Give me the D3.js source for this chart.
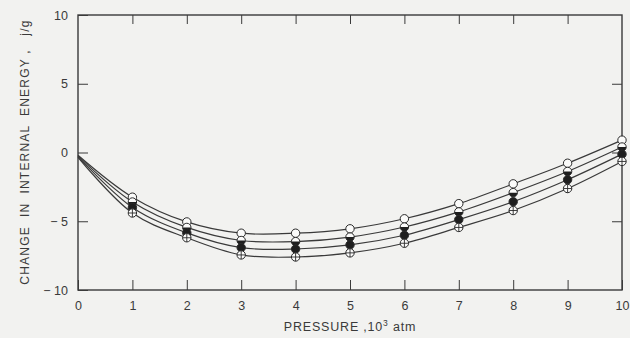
<!DOCTYPE html>
<html>
<head>
<meta charset="utf-8">
<script src="https://cdn.jsdelivr.net/npm/d3@7"></script>
<style>
  html, body { margin: 0; padding: 0; background: #f2f2f0; }
  svg { display: block; }
  text { font-family: "Liberation Sans", "DejaVu Sans", sans-serif; fill: #3a3a3a; }
</style>
</head>
<body>
<svg id="chart" width="630" height="338"></svg>
<script>
// Pressure, 10^3 atm
const pressure = [0, 1, 2, 3, 4, 5, 6, 7, 8, 9, 10];
// Change in internal energy (j/g) for the four runs
const seriesOpen   = [-0.20, -3.25, -5.05, -5.87, -5.87, -5.55, -4.82, -3.72, -2.28, -0.78, 0.90];
const seriesHalf   = [-0.25, -3.60, -5.45, -6.40, -6.48, -6.15, -5.42, -4.32, -2.92, -1.38, 0.40];
const seriesFilled = [-0.30, -4.00, -5.85, -6.92, -7.02, -6.72, -6.02, -4.88, -3.58, -1.98, -0.12];
const seriesCross  = [-0.35, -4.40, -6.20, -7.45, -7.60, -7.30, -6.60, -5.45, -4.22, -2.62, -0.65];
const markerKinds  = ["open", "half", "filled", "cross"];

const xTicks = [0, 1, 2, 3, 4, 5, 6, 7, 8, 9, 10];
const xTickLabels = ["0", "1", "2", "3", "4", "5", "6", "7", "8", "9", "10"];
const yTicks = [-10, -5, 0, 5, 10];
const yTickLabels = ["\u2212 10", "\u2212 5", "0", "5", "10"];

const svg = d3.select("#chart");
const W = 630, H = 338;
const plotLeft = 78, plotRight = 622, plotTop = 15, plotBottom = 290;
const ink = "#3a3a3a";

svg.append("rect").attr("width", W).attr("height", H).attr("fill", "#f2f2f0");

const x = d3.scaleLinear().domain([0, 10]).range([plotLeft, plotRight]);
const y = d3.scaleLinear().domain([-10, 10]).range([plotBottom, plotTop]);

// Frame
svg.append("rect")
  .attr("x", plotLeft).attr("y", plotTop)
  .attr("width", plotRight - plotLeft).attr("height", plotBottom - plotTop)
  .attr("fill", "none").attr("stroke", ink).attr("stroke-width", 1.4);

function styleAxis(g) {
  g.select(".domain").remove();
  g.selectAll(".tick line").attr("stroke", ink).attr("stroke-width", 1);
  g.selectAll(".tick text").attr("font-size", 12.5).attr("fill", ink)
    .attr("font-family", "'Liberation Sans', 'DejaVu Sans', sans-serif");
}

// Inward ticks on all four sides
svg.append("g").attr("transform", `translate(0,${plotBottom})`)
  .call(d3.axisBottom(x).tickValues(xTicks).tickSize(-10).tickPadding(11)
    .tickFormat((d, i) => xTickLabels[i]))
  .call(styleAxis);
svg.append("g").attr("transform", `translate(0,${plotTop})`)
  .call(d3.axisTop(x).tickValues(xTicks.slice(1, -1)).tickSize(-9).tickFormat(""))
  .call(styleAxis);
svg.append("g").attr("transform", `translate(${plotLeft},0)`)
  .call(d3.axisLeft(y).tickValues(yTicks).tickSize(-10).tickPadding(10)
    .tickFormat((d, i) => yTickLabels[i]))
  .call(styleAxis);
svg.append("g").attr("transform", `translate(${plotRight},0)`)
  .call(d3.axisRight(y).tickValues(yTicks.slice(1, -1)).tickSize(-10).tickFormat(""))
  .call(styleAxis);

// Curves
const allSeries = [seriesOpen, seriesHalf, seriesFilled, seriesCross];
const line = d3.line()
  .x((d, i) => x(pressure[i]))
  .y(d => y(d))
  .curve(d3.curveCatmullRom.alpha(0.5));

svg.append("g").selectAll("path")
  .data(allSeries)
  .join("path")
  .attr("d", line)
  .attr("fill", "none")
  .attr("stroke", ink)
  .attr("stroke-width", 1.2);

// Markers (no marker at zero pressure)
const r = 4.2;
allSeries.forEach((vals, s) => {
  const kind = markerKinds[s];
  const g = svg.append("g");
  vals.forEach((v, i) => {
    if (i === 0) return;
    const m = g.append("g").attr("transform", `translate(${x(pressure[i])},${y(v)})`);
    m.append("circle").attr("r", r)
      .attr("fill", kind === "filled" ? "#1e1e1e" : "#fbfbfa")
      .attr("stroke", "#2a2a2a").attr("stroke-width", 1);
    if (kind === "half") {
      m.append("path")
        .attr("d", `M${-r},0 A${r},${r} 0 0 0 ${r},0 Z`)
        .attr("fill", "#1e1e1e");
    }
    if (kind === "cross") {
      m.append("path")
        .attr("d", `M${-r},0 H${r} M0,${-r} V${r}`)
        .attr("stroke", "#2a2a2a").attr("stroke-width", 0.9);
    }
  });
});

// Axis titles
svg.append("text")
  .attr("x", 350).attr("y", 331)
  .attr("text-anchor", "middle")
  .attr("font-size", 12.5)
  .attr("letter-spacing", 0.8)
  .attr("fill", ink)
  .call(t => {
    t.append("tspan").text("PRESSURE ,10");
    t.append("tspan").attr("font-size", 8.5).attr("dy", -5).text("3");
    t.append("tspan").attr("dy", 5).text(" atm");
  });

svg.append("text")
  .attr("transform", "translate(29,152) rotate(-90)")
  .attr("text-anchor", "middle")
  .attr("font-size", 12)
  .attr("letter-spacing", 1.2)
  .style("white-space", "pre")
  .attr("fill", ink)
  .text("CHANGE  IN  INTERNAL  ENERGY ,   j/g");
</script>
</body>
</html>
